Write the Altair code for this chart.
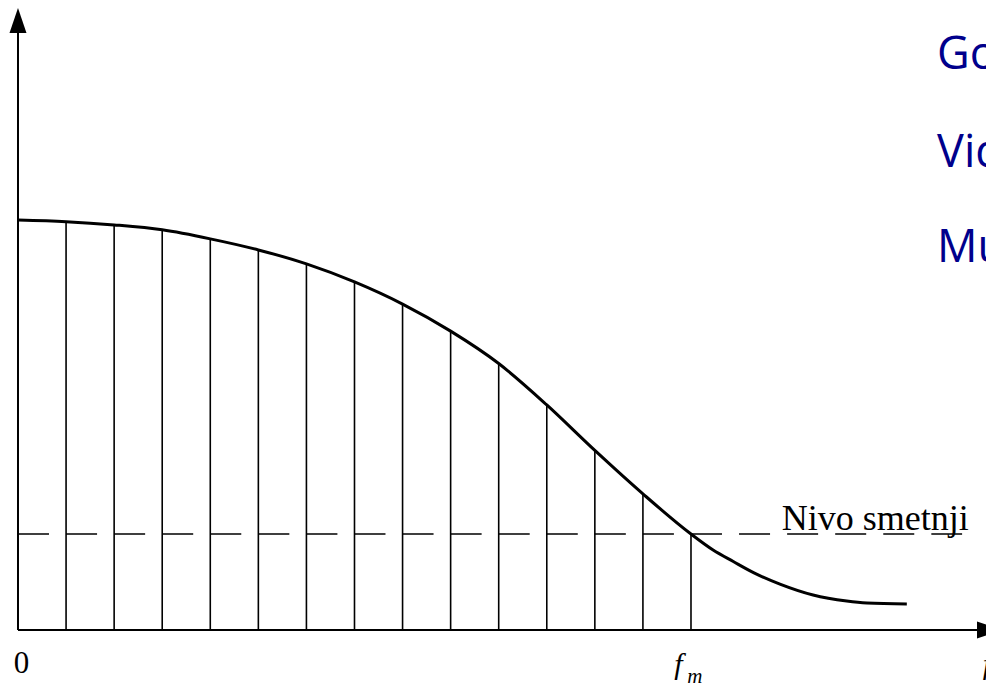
import altair as alt
import pandas as pd

# ---- data (frequency in sample steps, amplitude relative to the top of the curve) ----
curve_f = [0, 1, 2, 3, 4, 5, 6, 7, 8, 9, 10, 11, 12, 13, 14,
           14.46, 14.88, 15.30, 15.85, 16.54, 17.24, 17.66, 18.49]
curve_a = [1.000, 0.996, 0.988, 0.976, 0.954, 0.927, 0.893, 0.849, 0.795, 0.729,
           0.650, 0.549, 0.438, 0.332, 0.234,
           0.195, 0.167, 0.140, 0.112, 0.0854, 0.0707, 0.0659, 0.0634]
sample_f = [1, 2, 3, 4, 5, 6, 7, 8, 9, 10, 11, 12, 13, 14]
sample_a = curve_a[1:15]
noise_level = 0.234
noise_label = "Nivo smetnji"
blue_lines = ["Go", "Vid", "Mu"]

X_MIN, X_MAX = -0.208, 20.137
Y_MIN, Y_MAX = -0.13415, 1.51707

xs = alt.Scale(domain=[X_MIN, X_MAX], nice=False, zero=False)
ys = alt.Scale(domain=[Y_MIN, Y_MAX], nice=False, zero=False)

def X(f="u"):
    return alt.X(f"{f}:Q", scale=xs, axis=None)

def Y(f="a"):
    return alt.Y(f"{f}:Q", scale=ys, axis=None)

curve_df = pd.DataFrame({"u": curve_f, "a": curve_a})
samples_df = pd.DataFrame({"u": sample_f, "a0": [0] * len(sample_f), "a": sample_a})

curve = alt.Chart(curve_df).mark_line(color="black", strokeWidth=3, interpolate="monotone").encode(
    x=X(), y=Y())

samples = alt.Chart(samples_df).mark_rule(color="black", strokeWidth=1.6).encode(
    x=X(), y=Y("a0"), y2="a:Q")

axes_df = pd.DataFrame({"u": [0, 0], "a": [0, 0], "u2": [19.95, 0], "a2": [0, 1.456]})
axes = alt.Chart(axes_df).mark_rule(color="black", strokeWidth=2).encode(
    x=X(), y=Y(), x2="u2:Q", y2="a2:Q")

arrow_up = alt.Chart(pd.DataFrame({"u": [0], "a": [1.4866]})).mark_point(
    shape="M0,-1L-0.68,1L0.68,1Z", size=625, filled=True, color="black", opacity=1, strokeWidth=0
).encode(x=X(), y=Y())
arrow_right = alt.Chart(pd.DataFrame({"u": [20.21], "a": [0]})).mark_point(
    shape="M1,0L-1,-0.68L-1,0.68Z", size=625, filled=True, color="black", opacity=1, strokeWidth=0
).encode(x=X(), y=Y())

noise = alt.Chart(pd.DataFrame({"u": [0], "u2": [19.64], "a": [noise_level]})).mark_rule(
    color="black", strokeWidth=1.5, strokeDash=[31, 17.07]).encode(x=X(), x2="u2:Q", y=Y())

noise_text = alt.Chart(pd.DataFrame({"u": [15.89], "a": [0.244], "t": [noise_label]})).mark_text(
    font="Liberation Serif", fontSize=36, align="left", baseline="alphabetic", color="black"
).encode(x=X(), y=Y(), text="t:N")

zero_text = alt.Chart(pd.DataFrame({"u": [0.073], "a": [-0.105], "t": ["0"]})).mark_text(
    font="Liberation Serif", fontSize=31, align="center", baseline="alphabetic", color="black"
).encode(x=X(), y=Y(), text="t:N")

f_text = alt.Chart(pd.DataFrame({"u": [13.65, 20.07], "a": [-0.107, -0.107], "t": ["f", "f"]})).mark_text(
    font="Liberation Serif", fontSize=30, fontStyle="italic", align="left", baseline="alphabetic", color="black"
).encode(x=X(), y=Y(), text="t:N")

m_text = alt.Chart(pd.DataFrame({"u": [13.92], "a": [-0.129], "t": ["m"]})).mark_text(
    font="Liberation Serif", fontSize=21, fontStyle="italic", align="left", baseline="alphabetic", color="black"
).encode(x=X(), y=Y(), text="t:N")

blue_text = alt.Chart(pd.DataFrame({"u": [19.12] * 3, "a": [1.368, 1.129, 0.898], "t": blue_lines})).mark_text(
    font="Open Sans", fontSize=45, align="left", baseline="alphabetic", color="#00008C"
).encode(x=X(), y=Y(), text="t:N")

chart = alt.layer(
    samples, noise, axes, arrow_up, arrow_right, curve,
    noise_text, zero_text, f_text, m_text, blue_text
).properties(
    width=978, height=677, padding=0,
    autosize=alt.AutoSizeParams(type="none")
).configure_view(stroke=None)

chart.save("out.html", embed_options={"renderer": "svg", "actions": False})
